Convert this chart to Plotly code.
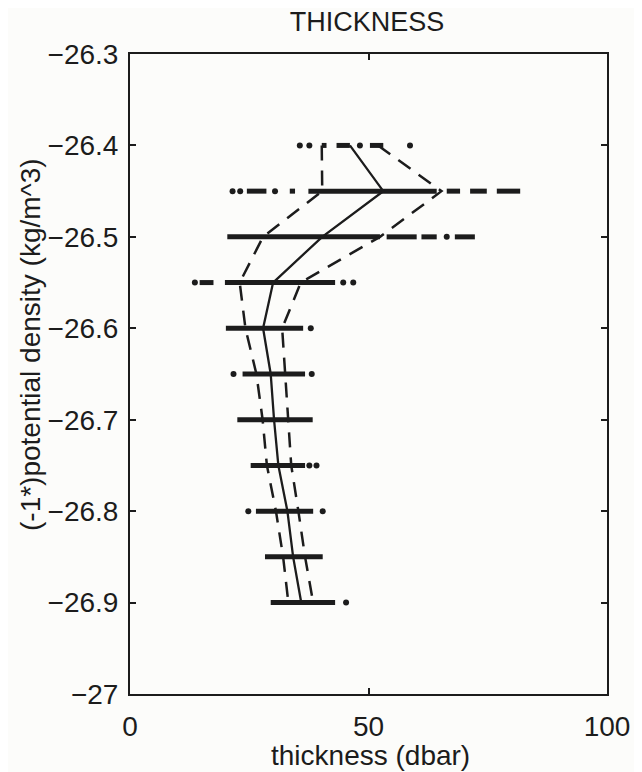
import plotly.graph_objects as go

# density levels (y) of each row
levels = [-26.40, -26.45, -26.50, -26.55, -26.60, -26.65, -26.70, -26.75, -26.80, -26.85, -26.90]

# centre line (solid) and the two spread lines (dashed)
mid_thick = [46.1, 53.1, 40.3, 30.0, 27.9, 29.5, 30.2, 31.1, 33.0, 34.2, 35.9]
low_thick = [40.2, 40.3, 27.9, 23.0, 24.2, 26.5, 27.8, 28.7, 30.6, 32.1, 33.2]
high_thick = [52.0, 65.3, 52.4, 35.8, 31.9, 32.5, 33.1, 33.8, 35.3, 36.7, 38.4]

# dense runs of observations (start, end, level)
run_level = [-26.40, -26.40, -26.40,
             -26.45, -26.45, -26.45, -26.45, -26.45, -26.45,
             -26.50, -26.50, -26.50, -26.50,
             -26.55, -26.55,
             -26.60, -26.65, -26.70, -26.75, -26.80, -26.85, -26.90]
run_lo = [40.2, 43.3, 50.3,
          24.5, 33.5, 37.4, 66.4, 71.3, 76.9,
          20.4, 53.8, 61.1, 68.1,
          14.6, 19.9,
          20.1, 23.6, 22.5, 25.3, 26.4, 28.3, 29.5]
run_hi = [41.2, 46.1, 53.1,
          28.6, 34.6, 64.3, 69.2, 74.8, 81.8,
          52.4, 60.1, 64.3, 72.3,
          17.5, 43.0,
          36.3, 36.7, 38.3, 36.7, 38.4, 40.4, 43.0]

# isolated observations
pt_level = [-26.40, -26.40, -26.40, -26.40,
            -26.45, -26.45, -26.45,
            -26.50,
            -26.55, -26.55, -26.55,
            -26.60, -26.65, -26.65, -26.75, -26.75, -26.80, -26.80, -26.90]
pt_x = [35.6, 37.6, 48.2, 58.7,
        21.5, 23.1, 30.4,
        66.4,
        13.6, 44.7, 46.8,
        37.9, 21.7, 38.1, 37.6, 39.1, 24.8, 40.4, 45.3]

y_ticks = [-27.0, -26.9, -26.8, -26.7, -26.6, -26.5, -26.4, -26.3]
y_tick_text = ["\u221227", "\u221226.9", "\u221226.8", "\u221226.7", "\u221226.6", "\u221226.5", "\u221226.4", "\u221226.3"]
x_ticks = [0, 50, 100]

INK = "#1c1c1c"
BG = "#fcfcfa"
FONT = "Liberation Sans, Arial, sans-serif"

# page body has an 8px margin; figure sized to sit inside the window
OFF = 8
W, H = 642 - OFF, 772 - OFF
PL, PR, PT, PB = 130 - OFF, 607 - OFF, 54 - OFF, 694 - OFF  # plot area in figure px
PW, PH = PR - PL, PB - PT

fig = go.Figure()

rx, ry = [], []
for lo, hi, lv in zip(run_lo, run_hi, run_level):
    rx += [lo, hi, None]
    ry += [lv, lv, None]
fig.add_trace(go.Scatter(x=rx, y=ry, mode="lines", line=dict(color=INK, width=5),
                         hoverinfo="skip", showlegend=False))

fig.add_trace(go.Scatter(x=pt_x, y=pt_level, mode="markers",
                         marker=dict(color=INK, size=6), showlegend=False))

fig.add_trace(go.Scatter(x=mid_thick, y=levels, mode="lines",
                         line=dict(color=INK, width=2.3), showlegend=False))
fig.add_trace(go.Scatter(x=low_thick, y=levels, mode="lines",
                         line=dict(color=INK, width=2.5, dash="15px,10px"), showlegend=False))
fig.add_trace(go.Scatter(x=high_thick, y=levels, mode="lines",
                         line=dict(color=INK, width=2.5, dash="15px,10px"), showlegend=False))

fig.update_layout(
    width=W, height=H,
    margin=dict(l=PL, r=W - PR, t=PT, b=H - PB, autoexpand=False),
    paper_bgcolor=BG, plot_bgcolor=BG,
    font=dict(family=FONT, color=INK, size=28),
    showlegend=False,
    title=dict(text="THICKNESS", x=(367 - OFF) / W, xanchor="center",
               y=1 - (22 - OFF) / H, yanchor="middle", font=dict(size=27, family=FONT, color=INK)),
    xaxis=dict(range=[0, 100], tickvals=x_ticks, ticks="inside", ticklen=6, tickwidth=1.5,
               tickcolor=INK, showgrid=False, zeroline=False, showline=True, linecolor=INK,
               linewidth=2, mirror="ticks", tickfont=dict(size=28, family=FONT, color=INK),
               ticklabelstandoff=6),
    yaxis=dict(range=[-27, -26.3], tickvals=y_ticks, ticktext=y_tick_text, ticks="inside",
               ticklen=6, tickwidth=1.5, tickcolor=INK, showgrid=False, zeroline=False,
               showline=True, linecolor=INK, linewidth=2, mirror="ticks",
               tickfont=dict(size=28, family=FONT, color=INK), ticklabelstandoff=4),
    annotations=[
        dict(text="(-1*)potential density (kg/m^3)", textangle=-90, xref="paper", yref="paper",
             x=-(PL - (30 - OFF)) / PW, y=(PB - (345 - OFF)) / PH, xanchor="center", yanchor="middle",
             showarrow=False, font=dict(size=28, family=FONT, color=INK)),
        dict(text="thickness (dbar)", xref="paper", yref="paper",
             x=((370 - OFF) - PL) / PW, y=-((755 - OFF) - PB) / PH, xanchor="center", yanchor="middle",
             showarrow=False, font=dict(size=28, family=FONT, color=INK)),
    ],
)

fig.write_html("out.html")
